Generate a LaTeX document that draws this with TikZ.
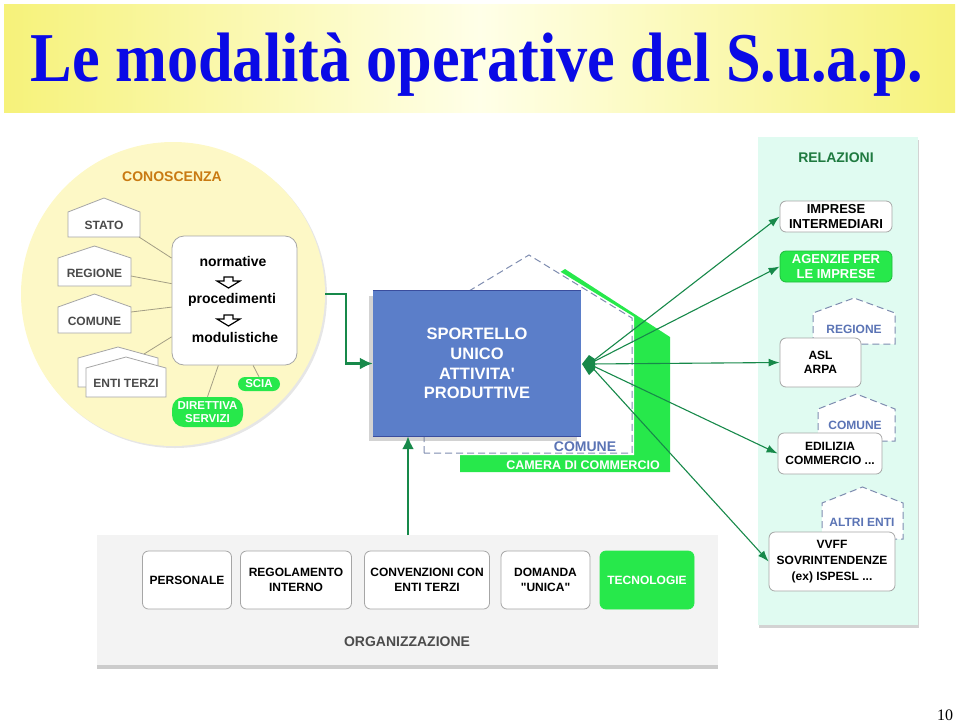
\documentclass[tikz,border=0pt]{standalone}
\usepackage{fontspec}
\setmainfont{Liberation Sans}
\newfontfamily\serifface{Liberation Serif}
\usetikzlibrary{arrows.meta,positioning,shadows}
\definecolor{TitleBlue}{HTML}{0A0AE6}
\definecolor{Band}{HTML}{F6F27A}
\definecolor{BandLight}{HTML}{FFFFE8}
\definecolor{Lemon}{HTML}{FDF8C6}
\definecolor{Ochre}{HTML}{C97A12}
\definecolor{Olive}{HTML}{A39E85}
\definecolor{Slate}{HTML}{7F8DB0}
\definecolor{SlateText}{HTML}{5B74B5}
\definecolor{Suap}{HTML}{5B7EC9}
\definecolor{SuapEdge}{HTML}{3A4D9E}
\definecolor{Lime}{HTML}{27E84B}
\definecolor{Forest}{HTML}{17894A}
\definecolor{Mint}{HTML}{E0FBF1}
\definecolor{MintText}{HTML}{1F7A40}
\definecolor{Paper}{HTML}{F3F3F3}

\begin{document}
\begin{tikzpicture}[x=1pt,y=-1pt,
    lbl/.style={font=\bfseries\fontsize{12}{14.5}\selectfont,align=center,inner sep=0pt},
    card/.style={lbl,draw=gray!70,fill=white,rounded corners=6pt,line width=0.8pt},
    pill/.style={lbl,fill=Lime,text=white,rounded corners=7pt,
      font=\bfseries\fontsize{11.5}{13}\selectfont},
    hse/.style={draw=gray!70,fill=white,line width=0.8pt},
    htxt/.style={lbl,text=gray!95!white!55!black},
    dhse/.style={draw=Slate,fill=white,dash pattern=on 7pt off 4pt,line width=1pt},
    dtxt/.style={lbl,text=SlateText},
    link/.style={draw=Olive,line width=0.8pt},
    ray/.style={draw=Forest,line width=1.1pt,-{Latex[length=11pt,width=8pt]}},
    flow/.style={draw=Forest,line width=2.5pt,-{Latex[length=13pt,width=12pt]}}]
  \useasboundingbox (0,0) rectangle (960,724);

  % title band
  \shade[left color=Band,right color=Band,middle color=BandLight] (4,4) rectangle (955,112);
  \node[anchor=base,text=TitleBlue,inner sep=0pt,
    font=\serifface\bfseries\fontsize{70}{70}\selectfont] (title) at (477,81)
    {\scalebox{0.89}[1]{Le modalità operative del S.u.a.p.}};
  \node[anchor=base,inner sep=0pt,font=\serifface\fontsize{16}{16}\selectfont] (pg) at (945,720) {10};

  % conoscenza
  \node[circle,fill=Lemon,minimum size=304,inner sep=0pt,
    drop shadow={shadow xshift=2pt,shadow yshift=-2pt,opacity=0.2}] (circ) at (173,294) {};
  \node[lbl,text=Ochre,font=\bfseries\fontsize{14}{16}\selectfont] (cono) at (172,177) {CONOSCENZA};
  \foreach \nm/\xa/\xb/\yp/\ye/\yb/\txt in {stato/68/140/198/212/237/STATO,
      regione/58/131/246/258/286/REGIONE,comune/58/131/294/307/333/COMUNE}{
    \draw[hse] (\xa,\yb) -- (\xa,\ye) -- ({(\xa+\xb)/2},\yp) -- (\xb,\ye) -- (\xb,\yb) -- cycle;
    \node[htxt] (\nm) at ({(\xa+\xb)/2},{(\ye+\yb)/2+1}) {\txt};
  }
  \draw[hse] (78,387) -- (78,358) -- (118,347) -- (158,358) -- (158,387) -- cycle;
  \draw[hse] (86,397) -- (86,368) -- (126,357) -- (166,368) -- (166,397) -- cycle;
  \node[htxt] (enti) at (126,383) {ENTI TERZI};
  \coordinate (stato-r) at (139,237);
  \coordinate (regione-r) at (131,276);
  \coordinate (comune-r) at (131,312);
  \coordinate (enti-r) at (144,354);

  \node[card,minimum width=125,minimum height=129,rounded corners=12pt] (know) at (234.5,300.5) {};
  \node[lbl,font=\bfseries\fontsize{14}{16}\selectfont] (norm) at (233,261) {normative};
  \node[lbl,font=\bfseries\fontsize{14}{16}\selectfont] (proc) at (232,300) {procedimenti};
  \node[lbl,font=\bfseries\fontsize{14}{16}\selectfont] (modu) at (235,337) {modulistiche};
  \foreach \ya in {277,315}
    \draw[line width=1.2pt,line join=miter] (224,\ya) -- (233,\ya) -- (233,\ya+4) -- (240,\ya+4)
      -- (228.5,\ya+11) -- (217,\ya+4) -- (224,\ya+4) -- cycle;

  \node[pill,minimum width=42,minimum height=14] (scia) at (259,384) {SCIA};
  \node[pill,minimum width=71,minimum height=30,rounded corners=12pt] (dir) at (207.5,412)
    {DIRETTIVA\\SERVIZI};

  \draw[link] (stato-r) -- (know.146);
  \draw[link] (regione-r) -- (know.165);
  \draw[link] (comune-r) -- (know.186);
  \draw[link] (enti-r) -- (know.210);
  \draw[link] (know.256) -- (dir.north);
  \draw[link] (know.286) -- (scia.north);

  % comune / camera di commercio
  \fill[Lime] (460,472) -- (460,337) -- (565,269) -- (670,337) -- (670,472) -- cycle;
  \draw[white,fill=white,line width=4pt] (424,453) -- (424,318) -- (529,255) -- (632,318) -- (632,453) -- cycle;
  \draw[dhse] (424,453) -- (424,318) -- (529,255) -- (632,318) -- (632,453) -- cycle;
  \node[dtxt,font=\bfseries\fontsize{14}{16}\selectfont] (comu) at (585,447) {COMUNE};
  \node[lbl,text=white,font=\bfseries\fontsize{12.5}{14}\selectfont] (cam) at (583,465) {CAMERA DI COMMERCIO};

  \node[fill=Suap,minimum width=208,minimum height=145,text=white,align=center,inner sep=0pt,
    font=\bfseries\fontsize{16.5}{19.7}\selectfont,
    drop shadow={shadow xshift=-4pt,shadow yshift=-5pt,opacity=0.35}] (suap) at (477,363.5)
    {SPORTELLO\\UNICO\\ATTIVITA\textquotesingle\\PRODUTTIVE};
  \draw[SuapEdge,line width=1.2pt] (suap.north west) -- (suap.north east);
  \draw[SuapEdge,line width=1.2pt] (suap.south west) -- (suap.south east);

  \draw[flow] (circ.east) -- ++(21,0) |- (suap.west);

  % relazioni
  \node[fill=Mint,minimum width=160,minimum height=488,inner sep=0pt,
    drop shadow={shadow xshift=1pt,shadow yshift=-3pt,opacity=0.35}] (rel) at (838,381) {};
  \node[lbl,text=MintText,font=\bfseries\fontsize{14}{16}\selectfont] (relt) at (836,158) {RELAZIONI};
  \foreach \nm/\xa/\xb/\yp/\ye/\yb in {hreg/813/895/298/313/344,hcom/818/895/394/409/441,
      halt/822/903/487/503/539}
    \draw[dhse] (\xa,\yb) -- (\xa,\ye) -- ({(\xa+\xb)/2},\yp) -- (\xb,\ye) -- (\xb,\yb) -- cycle;
  \node[dtxt] (hregt) at (854,329) {REGIONE};
  \node[dtxt] (hcomt) at (855,425) {COMUNE};
  \node[dtxt] (haltt) at (862,522) {ALTRI ENTI};

  \node[card,font=\bfseries\fontsize{13}{15}\selectfont,minimum width=112,minimum height=31] (impr)
    at (836,216.5) {IMPRESE\\INTERMEDIARI};
  \node[card,fill=Lime,draw=Lime!80!black,text=white,font=\bfseries\fontsize{13}{15}\selectfont,
    minimum width=112,minimum height=31] (agen) at (836,266.5) {AGENZIE PER\\LE IMPRESE};
  \node[card,minimum width=81,minimum height=49] (asl) at (820.5,362.5) {ASL\\ARPA};
  \node[card,minimum width=104,minimum height=41] (edil) at (830,453.5) {EDILIZIA\\COMMERCIO ...};
  \node[card,minimum width=126,minimum height=59,font=\bfseries\fontsize{12}{16}\selectfont] (vvff)
    at (832,561.5) {VVFF\\SOVRINTENDENZE\\(ex) ISPESL ...};

  \coordinate (hub) at (589,364);
  \foreach \t in {impr,agen,asl,edil,vvff}
    \draw[ray] (hub) -- (\t.west);
  \fill[Forest] (582,364) -- (589,355) -- (595,359) -- (595,369) -- (589,375) -- cycle;

  % organizzazione
  \node[fill=Paper,minimum width=621,minimum height=130,inner sep=0pt,
    drop shadow={shadow xshift=0pt,shadow yshift=-4pt,opacity=0.4}] (org) at (407.5,600) {};
  \node[card,minimum width=89,minimum height=58] (pers) at (187,580) {PERSONALE};
  \node[card,minimum width=111,minimum height=58] (rego) at (296,580) {REGOLAMENTO\\INTERNO};
  \node[card,minimum width=125,minimum height=58] (conv) at (427,580) {CONVENZIONI CON\\ENTI TERZI};
  \node[card,minimum width=89,minimum height=58] (doma) at (545.5,580)
    {DOMANDA\\\textquotedbl UNICA\textquotedbl};
  \node[card,fill=Lime,draw=Lime,text=white,minimum width=94,minimum height=58] (tecn) at (647,580) {TECNOLOGIE};
  \node[lbl,text=gray!60!black,font=\bfseries\fontsize{14}{16}\selectfont] (orgt) at (407,642) {ORGANIZZAZIONE};

  \coordinate (orgtop) at (408,535);
  \draw[flow] (orgtop) -- (orgtop |- suap.south);
\end{tikzpicture}
\end{document}
